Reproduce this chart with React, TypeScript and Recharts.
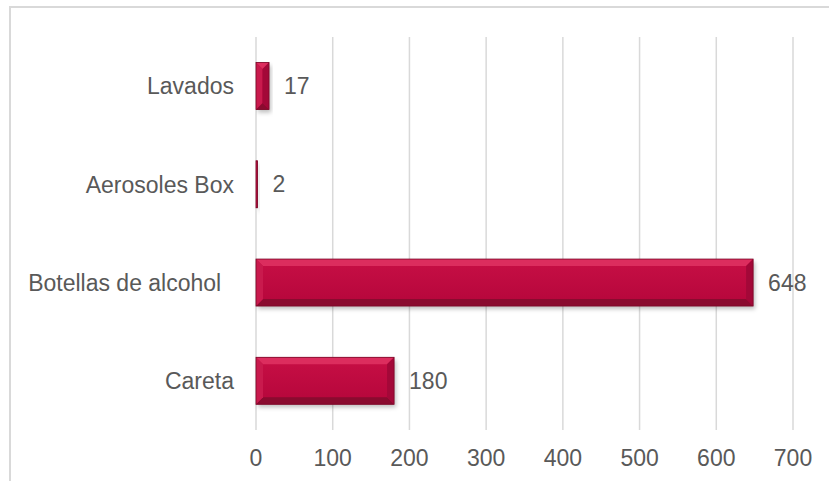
import { BarChart, Bar, XAxis, YAxis, CartesianGrid, LabelList } from "recharts";

const categories = ["Lavados", "Aerosoles Box", "Botellas de alcohol  ", "Careta"];
const values = [17, 2, 648, 180];
const xTicks = [0, 100, 200, 300, 400, 500, 600, 700];

const data = categories.map((name, i) => ({ name, value: values[i] }));

const FONT = "'Liberation Sans', Arial, sans-serif";
const TEXT = "#595959";
const FS = 23;

function BevelBar(props: any) {
    const { x, y, width, height } = props;
    if (!width || width <= 0) return null;
    const b = Math.min(7, width / 2, height / 2);
    const r = x + width;
    const bt = y + height;
    return (
        <g>
            <rect x={x + 2} y={y + 3} width={width} height={height} fill="rgba(0,0,0,0.25)" filter="url(#barShadow)" />
            <rect x={x} y={y} width={width} height={height} fill="url(#faceGrad)" />
            <polygon points={`${x},${y} ${r},${y} ${r - b},${y + b} ${x + b},${y + b}`} fill="#dc2d5e" />
            <polygon points={`${x},${bt} ${r},${bt} ${r - b},${bt - b} ${x + b},${bt - b}`} fill="#8a0b2f" />
            <polygon points={`${x},${y} ${x + b},${y + b} ${x + b},${bt - b} ${x},${bt}`} fill="#c91a4d" />
            <polygon points={`${r},${y} ${r - b},${y + b} ${r - b},${bt - b} ${r},${bt}`} fill="#a30838" />
            <rect x={x} y={y} width={width} height={height} fill="none" stroke="#7a0827" strokeWidth={0.8} />
        </g>
    );
}

// category labels keep their trailing spaces, like the original
function CatTick(props: any) {
    const { x, y, payload } = props;
    return (
        <text
            x={x}
            y={y}
            dy="0.355em"
            textAnchor="end"
            fill={TEXT}
            fontSize={FS}
            fontFamily={FONT}
            xmlSpace="preserve"
            style={{ whiteSpace: "pre" }}
        >
            {payload.value}
        </text>
    );
}

export default function App() {
    return (
        <div style={{ position: "absolute", left: 0, top: 0, width: 829, height: 481, background: "#fff", overflow: "hidden" }}>
            <div
                style={{
                    position: "absolute",
                    left: 9,
                    top: 6,
                    width: 900,
                    height: 600,
                    borderTop: "2px solid #d9d9d9",
                    borderLeft: "2px solid #d9d9d9",
                }}
            />
            <div style={{ position: "absolute", left: 0, top: 0 }}>
                <BarChart
                    width={829}
                    height={481}
                    data={data}
                    layout="vertical"
                    barCategoryGap="26%"
                    margin={{ top: 37, right: 36, left: 0, bottom: 0 }}
                >
                    <defs>
                        <linearGradient id="faceGrad" x1="0" y1="0" x2="0" y2="1">
                            <stop offset="0%" stopColor="#c70f45" />
                            <stop offset="100%" stopColor="#b5063b" />
                        </linearGradient>
                        <filter id="barShadow" x="-10%" y="-20%" width="120%" height="160%">
                            <feGaussianBlur stdDeviation="2" />
                        </filter>
                    </defs>
                    <CartesianGrid horizontal={false} stroke="#d9d9d9" strokeWidth={1.5} />
                    <XAxis
                        type="number"
                        domain={[0, 700]}
                        ticks={xTicks}
                        axisLine={false}
                        tickLine={false}
                        tickSize={0}
                        tickMargin={20}
                        height={51}
                        interval={0}
                        tick={{ fill: TEXT, fontSize: FS, fontFamily: FONT }}
                    />
                    <YAxis
                        type="category"
                        dataKey="name"
                        width={256}
                        axisLine={false}
                        tickLine={false}
                        tickSize={0}
                        tickMargin={22}
                        interval={0}
                        tick={<CatTick />}
                    />
                    <Bar dataKey="value" shape={<BevelBar />} isAnimationActive={false}>
                        <LabelList
                            dataKey="value"
                            position="right"
                            offset={15}
                            fill={TEXT}
                            fontSize={FS}
                            fontFamily={FONT}
                        />
                    </Bar>
                </BarChart>
            </div>
        </div>
    );
}
